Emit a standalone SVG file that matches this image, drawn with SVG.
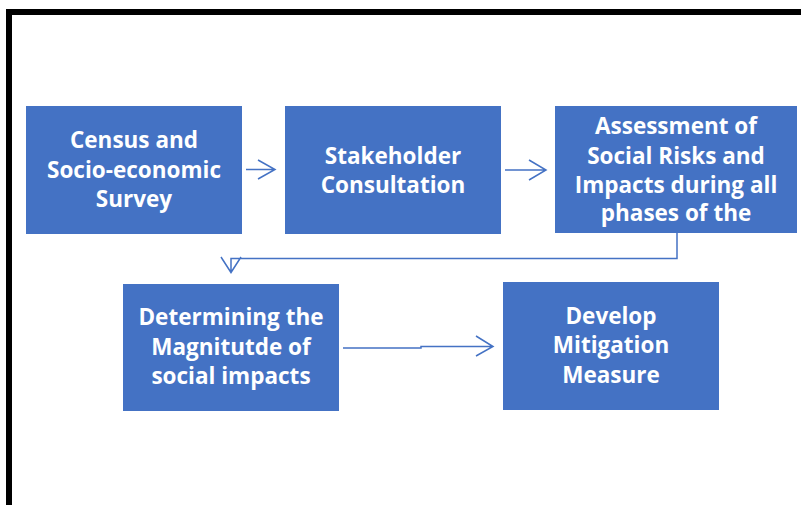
<svg xmlns="http://www.w3.org/2000/svg" width="801" height="505" viewBox="0 0 801 505">
<style>
.box{fill:#4472C4;}
.t{font-family:"Open Sans","Liberation Sans",sans-serif;font-weight:700;font-size:22.5px;fill:#fff;text-anchor:middle;}
.c{fill:none;stroke:#4472C4;stroke-width:1.5;}
</style>
<rect width="801" height="505" fill="#fff"/>
<path d="M9 505 V12 H801" fill="none" stroke="#000" stroke-width="6"/>
<g id="n1"><rect class="box" x="26" y="106" width="216" height="128"/>
<text class="t" x="134" y="148">Census and</text>
<text class="t" x="134" y="178">Socio-economic</text>
<text class="t" x="134" y="207">Survey</text></g>
<g id="n2"><rect class="box" x="285" y="106" width="216" height="128"/>
<text class="t" x="393" y="164">Stakeholder</text>
<text class="t" x="393" y="193">Consultation</text></g>
<g id="n3"><rect class="box" x="555" y="106" width="242" height="127"/>
<text class="t" x="676" y="134">Assessment of</text>
<text class="t" x="676" y="164">Social Risks and</text>
<text class="t" x="676" y="193">Impacts during all</text>
<text class="t" x="676" y="221">phases of the</text></g>
<g id="n4"><rect class="box" x="123" y="284" width="216" height="127"/>
<text class="t" x="231" y="325">Determining the</text>
<text class="t" x="231" y="355">Magnitutde of</text>
<text class="t" x="231" y="384">social impacts</text></g>
<g id="n5"><rect class="box" x="503" y="282" width="216" height="128"/>
<text class="t" x="611" y="324">Develop</text>
<text class="t" x="611" y="353">Mitigation</text>
<text class="t" x="611" y="383">Measure</text></g>
<g id="connectors">
<path class="c" d="M246 169.5 H275 M258 160 L275 169.5 L258 179"/>
<path class="c" d="M505 170 H546 M529 160 L546 170 L529 180"/>
<path class="c" d="M677 233 V258.5 H231 V272 M221 257 L231 272.5 L241 257"/>
<path class="c" d="M343 348 H421 V346.5 H493 M476 336 L493 346.5 L476 356"/>
</g>
</svg>
